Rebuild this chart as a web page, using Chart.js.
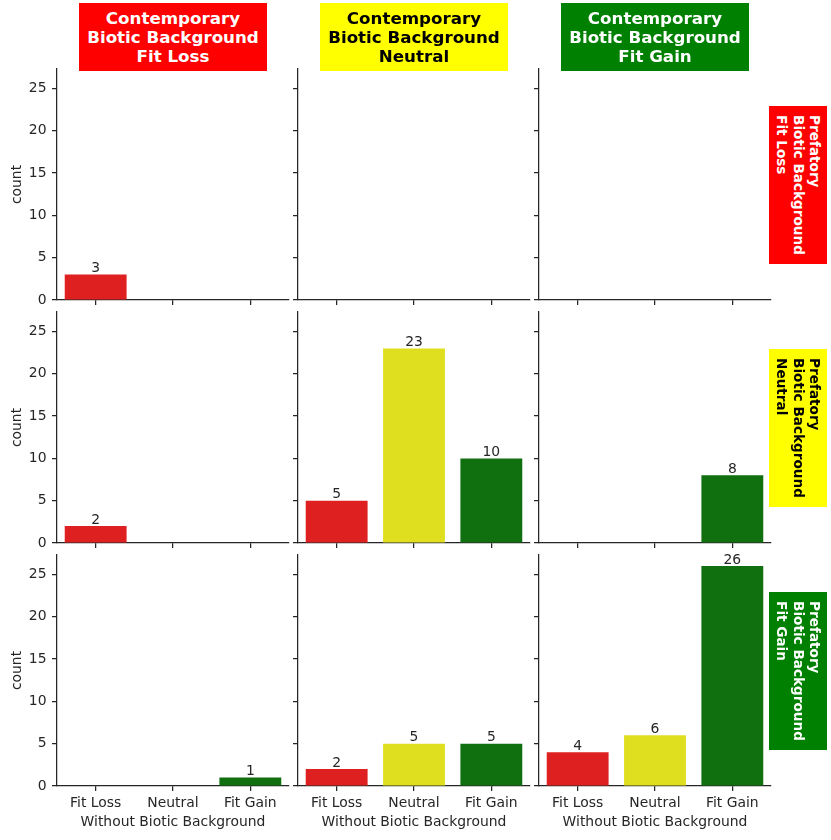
<!DOCTYPE html>
<html><head><meta charset="utf-8">
<script src="https://cdn.jsdelivr.net/npm/chart.js@4/dist/chart.umd.min.js"></script>
<style>
html,body{margin:0;padding:0;background:#fff;}
#wrap{position:relative;width:831px;height:840px;overflow:hidden;font-family:"DejaVu Sans",sans-serif;}
#wrap canvas{position:absolute;}
.strip{position:absolute;display:flex;align-items:center;justify-content:center;font-weight:bold;font-size:16.7px;line-height:19px;text-align:center;white-space:nowrap;}
.vstrip{display:block;font-size:13.6px;line-height:16.4px;}
.vstrip .inner{position:absolute;left:50%;top:50%;text-align:left;white-space:nowrap;transform:translate(-50%,-50%) rotate(90deg);}
</style>
</head><body>
<div id="wrap"></div>
<script>
// ---- data ----
const categories = ['Fit Loss', 'Neutral', 'Fit Gain'];
const contemporaryLabels = ['Fit Loss', 'Neutral', 'Fit Gain'];
const prefatoryLabels = ['Fit Loss', 'Neutral', 'Fit Gain'];
const yTickValues = [0, 5, 10, 15, 20, 25];
const yMax = 27.3;
// rows = Prefatory Biotic Background, columns = Contemporary Biotic Background
const prefLoss_contLoss = [3, 0, 0];
const prefLoss_contNeutral = [0, 0, 0];
const prefLoss_contGain = [0, 0, 0];
const prefNeutral_contLoss = [2, 0, 0];
const prefNeutral_contNeutral = [5, 23, 10];
const prefNeutral_contGain = [0, 0, 8];
const prefGain_contLoss = [0, 0, 1];
const prefGain_contNeutral = [2, 5, 5];
const prefGain_contGain = [4, 6, 26];
const grid = [
  [prefLoss_contLoss, prefLoss_contNeutral, prefLoss_contGain],
  [prefNeutral_contLoss, prefNeutral_contNeutral, prefNeutral_contGain],
  [prefGain_contLoss, prefGain_contNeutral, prefGain_contGain]
];

// ---- styles ----
const barColors = ['#df2020', '#dfdf20', '#107010'];
const stripBg = ['#ff0000', '#ffff00', '#008000'];
const stripFg = ['#ffffff', '#000000', '#ffffff'];
const ink = '#262626';
const FAM = '"DejaVu Sans", sans-serif';
const FS = 13.9;
const colX = [57, 298, 539];
const rowY = [69, 312, 555];
const PW = 232, PH = 231;

const wrap = document.getElementById('wrap');

const valueLabels = {
  id: 'valueLabels',
  afterDatasetsDraw(chart) {
    const ctx = chart.ctx;
    const meta = chart.getDatasetMeta(0);
    const data = chart.data.datasets[0].data;
    ctx.save();
    ctx.font = FS + 'px ' + FAM;
    ctx.fillStyle = ink;
    ctx.textAlign = 'center';
    ctx.textBaseline = 'alphabetic';
    meta.data.forEach((bar, i) => {
      const v = data[i];
      if (v) ctx.fillText(String(v), bar.x, bar.y - 2.5);
    });
    ctx.restore();
  }
};

function makePanel(r, c) {
  const leftW = c === 0 ? 57 : 8;
  const topPad = 18, rightPad = 2;
  const bottomH = r === 2 ? 54 : 16;
  const W = leftW + PW + rightPad, H = topPad + PH + bottomH;
  const cv = document.createElement('canvas');
  cv.width = W; cv.height = H;
  cv.style.width = W + 'px'; cv.style.height = H + 'px';
  cv.style.left = (colX[c] - leftW) + 'px';
  cv.style.top = (rowY[r] - topPad) + 'px';
  wrap.appendChild(cv);
  new Chart(cv, {
    type: 'bar',
    data: {
      labels: categories,
      datasets: [{
        data: grid[r][c],
        backgroundColor: barColors,
        borderWidth: 0,
        categoryPercentage: 0.8,
        barPercentage: 1.0
      }]
    },
    options: {
      responsive: false,
      animation: false,
      devicePixelRatio: 1,
      layout: { padding: { top: topPad, right: rightPad, left: 0, bottom: 0 } },
      plugins: { legend: { display: false }, tooltip: { enabled: false } },
      scales: {
        x: {
          offset: true,
          grid: { display: true, drawOnChartArea: false, drawTicks: true, tickLength: 5, offset: false, color: ink, lineWidth: 1.25 },
          border: { display: true, color: ink, width: 1.25 },
          ticks: { display: r === 2, color: ink, font: { family: FAM, size: FS }, padding: 4, maxRotation: 0, autoSkip: false },
          title: { display: r === 2, text: 'Without Biotic Background', color: ink, font: { family: FAM, size: FS }, padding: { top: 0, bottom: 9.2 } },
          afterFit: s => { s.height = bottomH; }
        },
        y: {
          min: 0, max: yMax,
          afterBuildTicks: s => { s.ticks = yTickValues.map(v => ({ value: v })); },
          grid: { display: true, drawOnChartArea: false, drawTicks: true, tickLength: 5, color: ink, lineWidth: 1.25 },
          border: { display: true, color: ink, width: 1.25 },
          ticks: { display: c === 0, color: ink, font: { family: FAM, size: FS }, padding: 5.5 },
          title: { display: c === 0, text: 'count', color: ink, font: { family: FAM, size: FS }, padding: { top: 8.7, bottom: 0 } },
          afterFit: s => { s.width = leftW; }
        }
      }
    },
    plugins: [valueLabels]
  });
}

for (let r = 0; r < 3; r++) for (let c = 0; c < 3; c++) makePanel(r, c);

// column strips (top)
for (let c = 0; c < 3; c++) {
  const d = document.createElement('div');
  d.className = 'strip';
  const cx = colX[c] + PW / 2;
  d.style.left = (cx - 94) + 'px'; d.style.top = '3px';
  d.style.width = '188px'; d.style.height = '68px';
  d.style.background = stripBg[c]; d.style.color = stripFg[c];
  d.innerHTML = 'Contemporary<br>Biotic Background<br>' + contemporaryLabels[c];
  wrap.appendChild(d);
}
// row strips (right)
for (let r = 0; r < 3; r++) {
  const d = document.createElement('div');
  d.className = 'strip vstrip';
  const cy = rowY[r] + PH / 2;
  d.style.left = '769px'; d.style.top = (cy - 79) + 'px';
  d.style.width = '58px'; d.style.height = '158px';
  d.style.background = stripBg[r]; d.style.color = stripFg[r];
  const inner = document.createElement('div');
  inner.className = 'inner';
  inner.innerHTML = 'Prefatory<br>Biotic Background<br>' + prefatoryLabels[r];
  d.appendChild(inner);
  wrap.appendChild(d);
}
</script>
</body></html>
